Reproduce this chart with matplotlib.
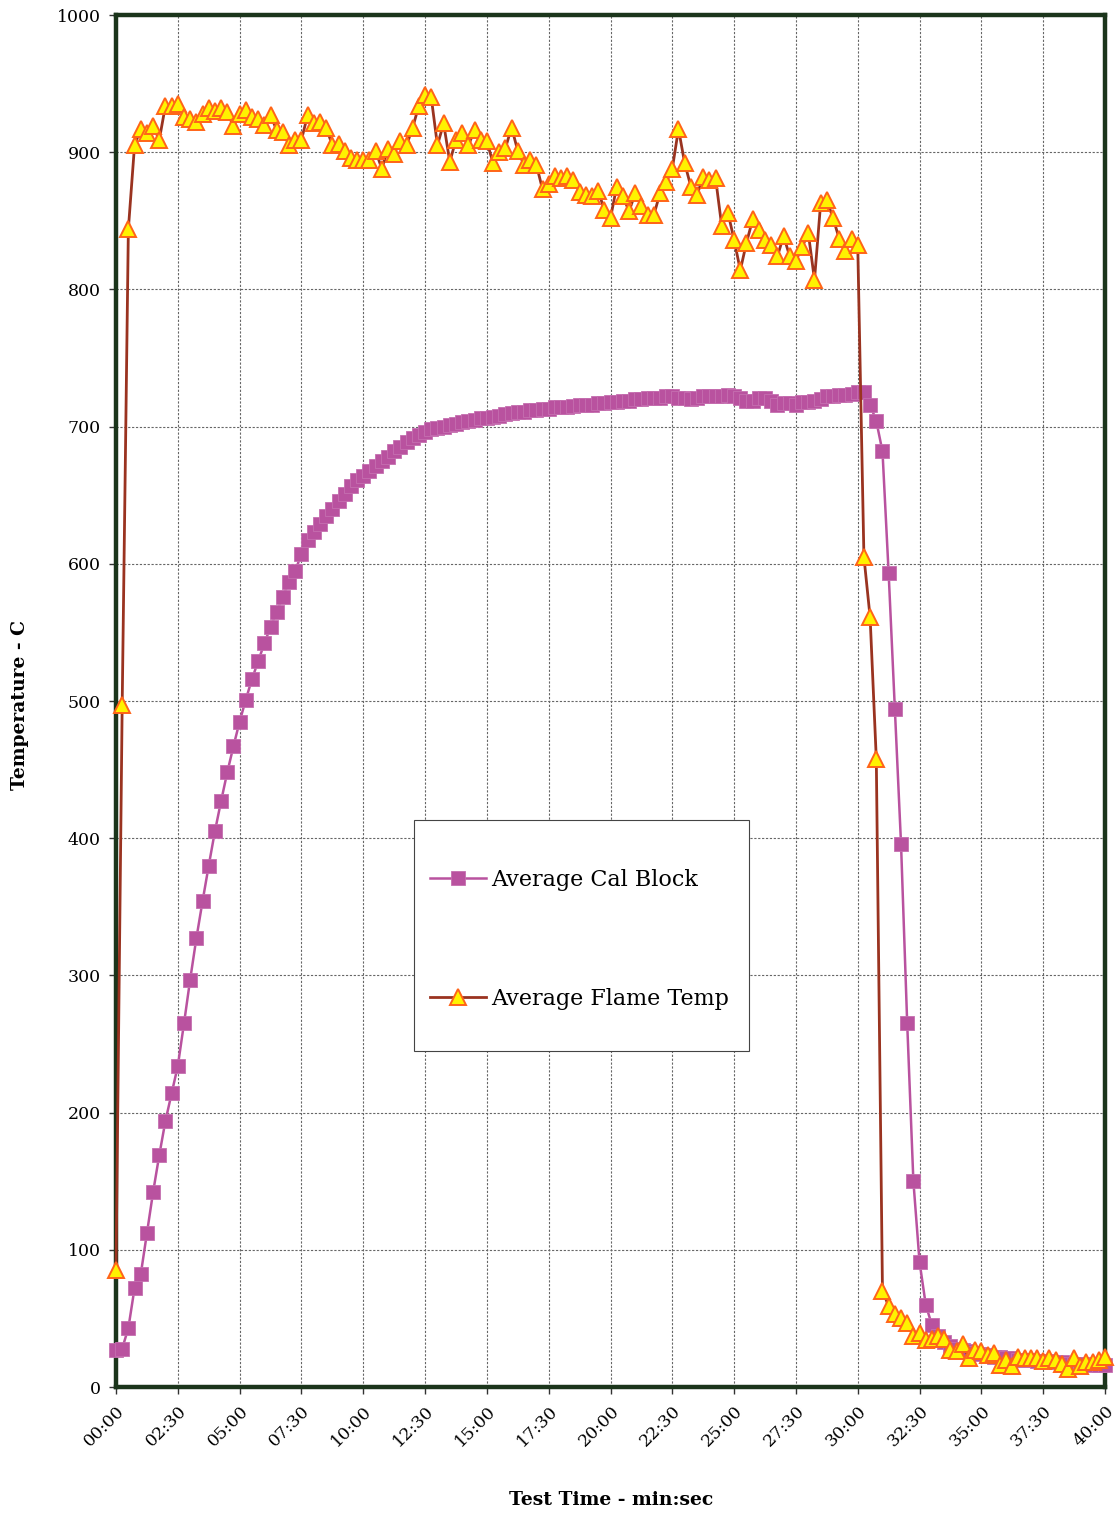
import numpy as np
import matplotlib
matplotlib.use("Agg")
import matplotlib.pyplot as plt
from matplotlib.patches import Rectangle

# Sampling interval of the logger (seconds) and test length
sample_interval_s = 15
test_length_s = 2400

# Average calorimeter block temperature (deg C), one reading every 15 s
cal_block = [
    27, 28, 43, 72, 82, 112, 142, 169, 194, 214,
    234, 265, 297, 327, 354, 380, 405, 427, 448, 467,
    485, 501, 516, 529, 542, 554, 565, 576, 587, 595,
    607, 617, 623, 629, 635, 640, 646, 651, 657, 661,
    664, 668, 671, 675, 678, 682, 685, 689, 692, 694,
    696, 698, 699, 700, 701, 702, 703, 704, 705, 706,
    706, 707, 708, 709, 710, 711, 711, 712, 712, 713,
    713, 714, 714, 714, 715, 716, 716, 716, 717, 717,
    718, 718, 719, 719, 720, 720, 721, 721, 721, 722,
    722, 721, 721, 720, 721, 722, 722, 722, 722, 723,
    722, 721, 719, 719, 721, 721, 719, 716, 717, 717,
    716, 718, 718, 719, 720, 722, 722, 723, 723, 724,
    725, 725, 716, 704, 682, 593, 494, 396, 265, 150,
    91, 60, 45, 37, 33, 30, 28, 27, 26, 25,
    24, 23, 22, 22, 21, 21, 20, 20, 20, 19,
    19, 19, 18, 18, 17, 17, 17, 17, 16, 16,
    16,
]

# Average flame temperature (deg C), same sampling
flame_temp = [
    85, 497, 844, 905, 917, 914, 919, 909, 934, 934,
    935, 926, 924, 922, 928, 932, 930, 932, 929, 919,
    928, 931, 926, 924, 920, 927, 916, 915, 905, 909,
    909, 927, 921, 922, 918, 905, 906, 901, 896, 894,
    894, 894, 901, 888, 902, 899, 908, 905, 918, 934,
    942, 940, 905, 921, 893, 909, 914, 905, 916, 909,
    908, 892, 900, 903, 918, 901, 891, 894, 891, 873,
    877, 883, 881, 883, 880, 871, 869, 868, 872, 858,
    852, 875, 868, 857, 870, 861, 854, 854, 870, 878,
    888, 917, 892, 875, 869, 882, 880, 881, 846, 856,
    836, 814, 834, 851, 843, 836, 832, 824, 839, 824,
    821, 831, 841, 807, 863, 865, 852, 837, 828, 837,
    832, 605, 561, 458, 70, 59, 53, 50, 47, 37,
    39, 34, 35, 37, 35, 27, 26, 31, 21, 27,
    26, 23, 25, 16, 20, 15, 22, 21, 21, 21,
    19, 21, 20, 17, 13, 21, 15, 18, 18, 20,
    22,
]

x_tick_labels = ["00:00", "02:30", "05:00", "07:30", "10:00", "12:30", "15:00",
                 "17:30", "20:00", "22:30", "25:00", "27:30", "30:00", "32:30",
                 "35:00", "37:30", "40:00"]
y_ticks = [0, 100, 200, 300, 400, 500, 600, 700, 800, 900, 1000]

series_names = ["Average Cal Block", "Average Flame Temp"]

elapsed = np.arange(len(cal_block)) * sample_interval_s
tick_pos = np.arange(len(x_tick_labels)) * 150

serif = "DejaVu Serif"
plt.rcParams["font.family"] = serif

fig = plt.figure(figsize=(11.15, 15.14), dpi=100)
ax = fig.add_axes([116 / 1115, 1 - 1387 / 1514, 989 / 1115, 1372 / 1514])

cal_line, = ax.plot(elapsed, cal_block, color="#B9529F", lw=1.8,
                    marker="s", markersize=10.5, markerfacecolor="#B9529F",
                    markeredgecolor="#C56FB0", markeredgewidth=0.6,
                    clip_on=False, zorder=3, label=series_names[0])
flame_line, = ax.plot(elapsed, flame_temp, color="#9A3320", lw=2.0,
                      marker="^", markersize=11, markerfacecolor="#FFF200",
                      markeredgecolor="#FF6418", markeredgewidth=1.4,
                      clip_on=False, zorder=4, label=series_names[1])

ax.set_xlim(0, test_length_s)
ax.set_ylim(0, 1000)
ax.set_xticks(tick_pos)
ax.set_xticklabels(x_tick_labels, rotation=45, ha="right",
                   rotation_mode="anchor", fontsize=12.5)
ax.set_yticks(y_ticks)
ax.set_yticklabels([str(v) for v in y_ticks], fontsize=12.5)
ax.tick_params(axis="both", direction="out", length=5, width=1, color="#333333")
ax.tick_params(axis="y", pad=6)
ax.tick_params(axis="x", pad=6)

ax.grid(True, color="#666666", linestyle=(0, (2, 1.5)), linewidth=0.8)
ax.set_axisbelow(True)
for s in ax.spines.values():
    s.set_color("#1B351B")
    s.set_linewidth(3.2)

fig.text(20 / 1115, 1 - 705 / 1514, "Temperature - C", rotation=90,
         ha="center", va="center", fontsize=13.5, fontweight="bold")
fig.text(611 / 1115, 1 - 1500 / 1514, "Test Time - min:sec",
         ha="center", va="center", fontsize=13.5, fontweight="bold")

# Legend box and entries
ax.add_patch(Rectangle((0.301, 0.245), 0.339, 0.168, transform=ax.transAxes,
                       facecolor="white", edgecolor="#444444", lw=0.8, zorder=5))
leg = ax.legend(handles=[cal_line, flame_line], loc="upper left",
                bbox_to_anchor=(0.3175, 0.3775), frameon=False, borderpad=0,
                fontsize=16, handlelength=2.5, handletextpad=0.25,
                labelspacing=4.35, borderaxespad=0)
leg.set_zorder(6)

fig.savefig("out.png", dpi=100, facecolor="white")
